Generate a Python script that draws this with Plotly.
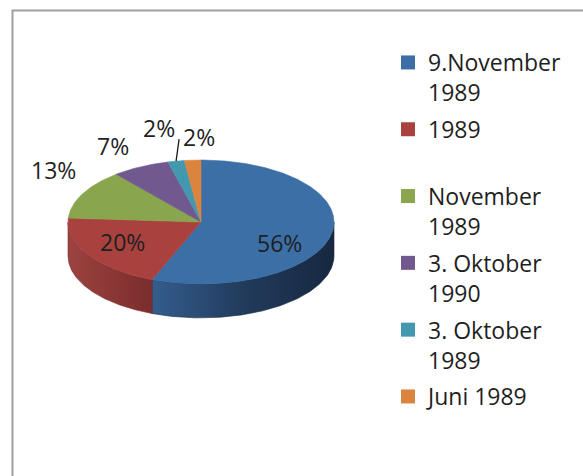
import numpy as np
import plotly.graph_objects as go

# ---------------- data ----------------
categories = ["9.November<br>1989", "1989<br> ", "November<br>1989",
              "3. Oktober<br>1990", "3. Oktober<br>1989", "Juni 1989"]
shares = [56, 20, 13, 7, 2, 2]          # percent
pct_labels = ["56%", "20%", "13%", "7%", "2%", "2%"]

# ---------------- style ----------------
top_colors = ["#3b6fa6", "#a9423f", "#89a54e", "#71588f", "#4198af", "#db843d"]
side_scales = {
    0: [[0, "#335d8e"], [0.5, "#223b5c"], [1, "#172840"]],
    1: [[0, "#9c4340"], [1, "#7a2c2c"]],
}
W, H = 583, 476
CX_PX, CY_PX, SCALE = 201, 222, 133.0      # pie centre (px) and px per unit radius
TILT = 0.466                                # vertical squash of top face
DEPTH = 0.255                               # thickness of the pie
FONT = "Open Sans"
# label offsets (px) from the rim point at each slice's mid angle
label_offsets = [(-52, 9), (34, -13), (-29, -24), (-28, -21), (-17, -33), (6, -23)]
LEADER_SLICE = 4
leader_offset = (3, -22)   # px, end of the leader line relative to rim point

fig = go.Figure()

total = float(sum(shares))
bounds = np.concatenate([[0], np.cumsum(shares)]) / total * 2 * np.pi  # clockwise from 12 o'clock


def rim(t):
    return np.sin(t), TILT * np.cos(t)


# side walls (front half only: angles between pi/2 and 3pi/2)
for i in range(len(shares)):
    a0, a1 = bounds[i], bounds[i + 1]
    s, e = max(a0, np.pi / 2), min(a1, 3 * np.pi / 2)
    if e <= s:
        continue
    t = np.linspace(s, e, 120)
    xt, yt = rim(t)
    xs = np.concatenate([xt, xt[::-1], [xt[0]]])
    ys = np.concatenate([yt, (yt - DEPTH)[::-1], [yt[0]]])
    sc = side_scales.get(i, [[0, top_colors[i]], [1, top_colors[i]]])
    fig.add_trace(go.Scatter(
        x=xs, y=ys, mode="lines", fill="toself",
        line=dict(width=0.6, color=sc[-1][1]),
        fillgradient=dict(type="horizontal", colorscale=sc,
                          start=float(xt.min()), stop=float(xt.max())),
        hoverinfo="skip", showlegend=False))

# top faces
for i in range(len(shares)):
    t = np.linspace(bounds[i], bounds[i + 1], max(8, int(shares[i] * 6)))
    xt, yt = rim(t)
    xs = np.concatenate([[0], xt, [0]])
    ys = np.concatenate([[0], yt, [0]])
    fig.add_trace(go.Scatter(
        x=xs, y=ys, mode="lines", fill="toself", fillcolor=top_colors[i],
        line=dict(width=0.6, color=top_colors[i]),
        hoverinfo="skip", showlegend=False))

# leader line for the small slice label
mid = (bounds[LEADER_SLICE] + bounds[LEADER_SLICE + 1]) / 2
mx, my = rim(mid)
fig.add_trace(go.Scatter(
    x=[mx, mx + leader_offset[0] / SCALE], y=[my, my - leader_offset[1] / SCALE],
    mode="lines", line=dict(color="#1a1a1a", width=1.3),
    hoverinfo="skip", showlegend=False))

# legend entries
for i, name in enumerate(categories):
    fig.add_trace(go.Scatter(
        x=[None], y=[None], mode="markers", name=name, legendgroup=f"g{i}",
        marker=dict(symbol="square", size=14, color=top_colors[i]),
        showlegend=True))

# percentage labels
for i, lab in enumerate(pct_labels):
    mid = (bounds[i] + bounds[i + 1]) / 2
    mx, my = rim(mid)
    dx, dy = label_offsets[i]
    fig.add_annotation(x=mx, y=my, text=lab, showarrow=False,
                       xshift=dx, yshift=-dy,
                       font=dict(family=FONT, size=23, color="#1f1f1f"))

# chart border
fig.add_shape(type="rect", xref="paper", yref="paper",
              x0=12.5 / W, y0=-0.1, x1=1.1, y1=1 - 10.5 / H,
              line=dict(color="#a0a0a0", width=2))

fig.update_layout(
    width=W, height=H, margin=dict(l=0, r=0, t=0, b=0),
    paper_bgcolor="white", plot_bgcolor="white",
    xaxis=dict(range=[-CX_PX / SCALE, (W - CX_PX) / SCALE], visible=False, fixedrange=True),
    yaxis=dict(range=[-(H - CY_PX) / SCALE, CY_PX / SCALE], visible=False, fixedrange=True),
    showlegend=True,
    legend=dict(x=388 / W, y=1 - 41 / H, xanchor="left", yanchor="top",
                valign="top", tracegroupgap=4,
                font=dict(family=FONT, size=23, color="#1f1f1f"),
                bgcolor="rgba(0,0,0,0)", itemclick=False, itemdoubleclick=False),
    font=dict(family=FONT),
)

fig.write_html("out.html", config={"displayModeBar": False},
               post_script="document.body.style.margin='0px';")
